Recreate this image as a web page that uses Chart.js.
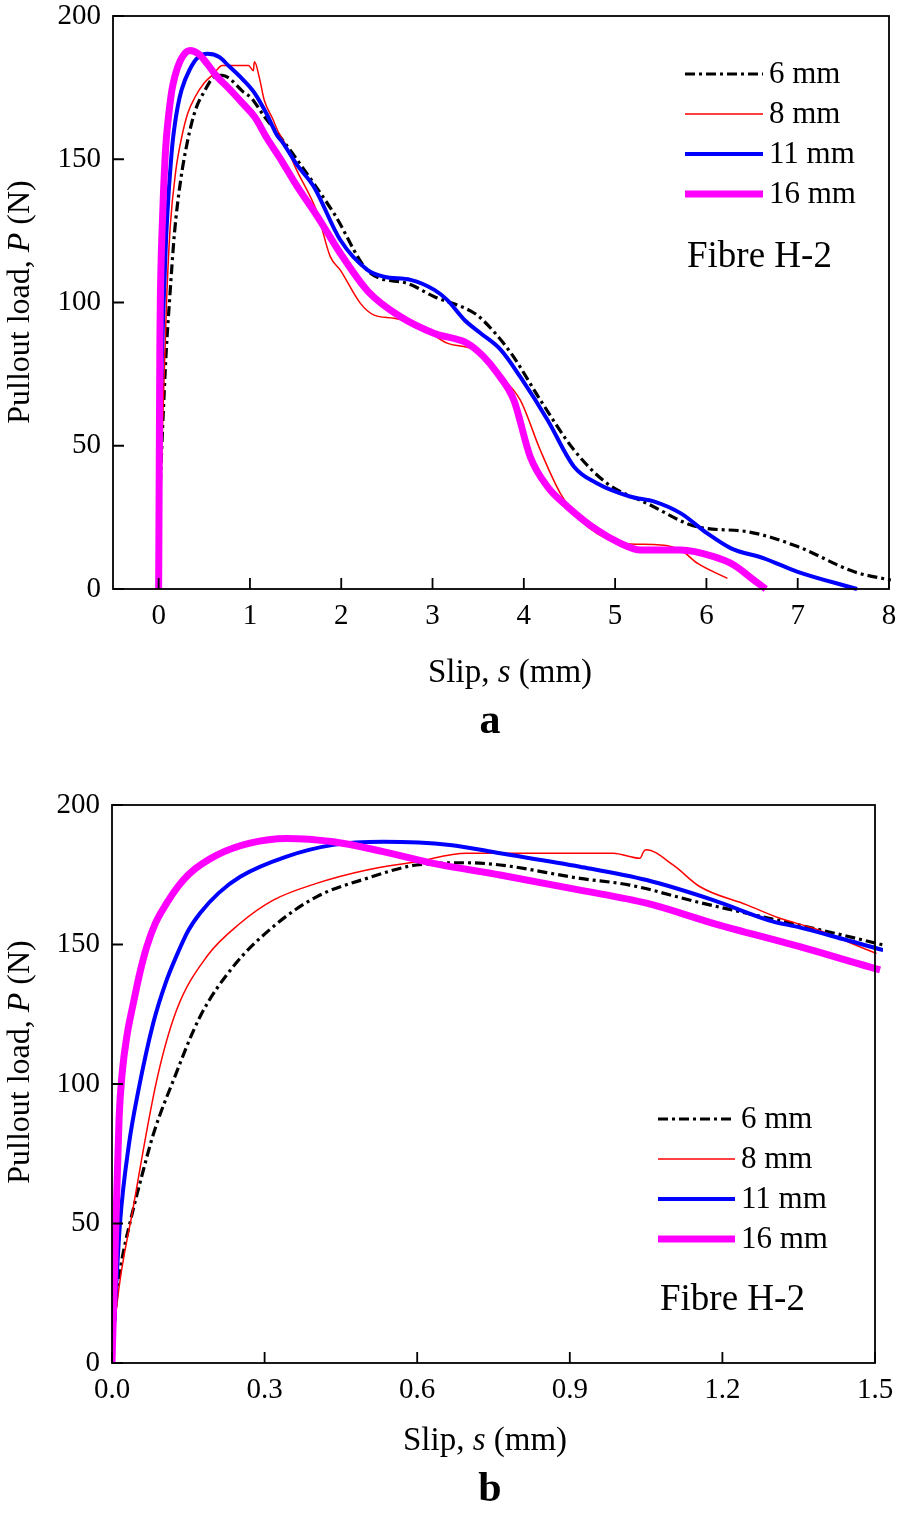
<!DOCTYPE html>
<html><head><meta charset="utf-8">
<script src="https://cdn.jsdelivr.net/npm/chart.js@4.4.0/dist/chart.umd.min.js"></script>
<style>
html,body{margin:0;padding:0;background:#fff;}
.wrap{position:relative;width:898px;height:760px;}
canvas{display:block;}
</style></head><body>
<div class="wrap"><canvas id="ca" width="898" height="760"></canvas></div>
<div class="wrap"><canvas id="cb" width="898" height="760"></canvas></div>
<script>
// ---- data (slip s in mm, pullout load P in N) ----
const slip6 = [0, 0.009, 0.02, 0.035, 0.06, 0.083, 0.12, 0.173, 0.238, 0.317, 0.402, 0.501, 0.599, 0.697, 0.763, 0.92, 1.018, 1.149, 1.248, 1.379, 1.49, 1.92, 2.32, 2.72, 3.02, 3.42, 3.53, 3.86, 4.18, 4.55, 4.91, 5.35, 5.9, 6.45, 7.0, 7.62, 8.02];
const load6 = [0, 23.8, 37.5, 50, 68, 83, 101, 124.1, 142, 156.4, 167.1, 173.7, 178.5, 179.3, 178.5, 173.7, 171.3, 165.3, 161.2, 155.8, 151, 131.1, 110.2, 106.7, 102, 97, 94.5, 82.3, 66, 48.5, 36.9, 29.9, 21.7, 20, 14.8, 6, 3.1];

const slip8 = [0, 0.009, 0.042, 0.088, 0.127, 0.186, 0.252, 0.317, 0.402, 0.501, 0.599, 0.697, 0.763, 0.985, 1.038, 1.045, 1.05, 1.103, 1.156, 1.248, 1.313, 1.379, 1.503, 1.74, 1.88, 1.99, 2.21, 2.36, 2.58, 2.87, 3.16, 3.45, 3.71, 3.96, 4.18, 4.4, 4.62, 4.8, 5.06, 5.5, 5.72, 5.9, 6.23];
const load8 = [0, 20, 56, 101.4, 126.5, 145.6, 157.6, 165.9, 171.9, 176.7, 179.7, 182.7, 182.7, 182.7, 180.9, 183.3, 184, 178.5, 170.7, 164.2, 159.4, 155.8, 146.8, 131.1, 116, 111.3, 99.7, 95.6, 94.5, 91.5, 85.8, 83.4, 75.3, 66, 48.5, 33.4, 24.1, 19.4, 15.9, 15.4, 13.6, 9, 3.7];

const slip11 = [0, 0.0157, 0.033, 0.052, 0.081, 0.105, 0.127, 0.15, 0.173, 0.21, 0.252, 0.343, 0.435, 0.533, 0.664, 0.763, 0.92, 1.051, 1.182, 1.3, 1.346, 1.444, 1.516, 1.7, 1.99, 2.29, 2.47, 2.76, 3.02, 3.16, 3.35, 3.53, 3.75, 3.96, 4.26, 4.55, 4.8, 5.17, 5.43, 5.72, 6.01, 6.27, 6.63, 7.0, 7.65];
const load11 = [0, 50, 78, 97.8, 121.8, 136, 146, 155, 161.2, 168.5, 174.3, 181.5, 185.7, 186.8, 185.7, 182.7, 177.9, 173.1, 165.9, 158.2, 156.4, 151.6, 148, 140.4, 121.8, 111.3, 109, 107.9, 104.4, 100.9, 93.9, 89.2, 83.4, 74.1, 59, 42.7, 36.9, 32.2, 30.5, 26.4, 19.4, 14.2, 10.7, 6, 0];

const slip16 = [0, 0.008, 0.014, 0.02, 0.03, 0.042, 0.055, 0.068, 0.085, 0.1075, 0.13, 0.153, 0.206, 0.271, 0.343, 0.435, 0.533, 0.632, 0.763, 0.92, 1.051, 1.182, 1.352, 1.51, 1.74, 1.99, 2.29, 2.65, 3.02, 3.38, 3.56, 3.71, 3.89, 4.07, 4.26, 4.48, 4.8, 5.06, 5.28, 5.72, 6.08, 6.3, 6.52, 6.65];
const load16 = [0, 52, 88, 104, 118, 129, 140, 149, 157.5, 164.8, 170.8, 175.5, 182, 186.3, 188, 186.8, 183.3, 179.1, 174.9, 169.5, 164.8, 157.6, 149.2, 140.9, 130, 117.2, 104, 95, 89.2, 85.8, 81.1, 75.3, 66, 46.2, 35.7, 28.7, 20.6, 15.9, 13.6, 13.6, 11.3, 8.4, 3.1, 0];

const seriesLabels = ['6 mm', '8 mm', '11 mm', '16 mm'];
const yTicks = [0, 50, 100, 150, 200];
const xTicksA = [0, 1, 2, 3, 4, 5, 6, 7, 8];
const xTicksB = [0, 0.3, 0.6, 0.9, 1.2, 1.5];

// ---- styling ----
const FONT = '"Liberation Serif", "Times New Roman", serif';
const styles = [
  {color: '#000000', width: 3.2, dash: [10, 4, 3, 4]},
  {color: '#ff0000', width: 1.5, dash: []},
  {color: '#0000ff', width: 4, dash: []},
  {color: '#ff00ff', width: 7, dash: []}
];
const slips = [slip6, slip8, slip11, slip16];
const loads = [load6, load8, load11, load16];

function makeDatasets() {
  return slips.map((sx, i) => ({
    label: seriesLabels[i],
    data: sx.map((v, k) => ({x: v, y: loads[i][k]})),
    borderColor: styles[i].color,
    borderWidth: styles[i].width,
    borderDash: styles[i].dash,
    pointRadius: 0,
    fill: false,
    cubicInterpolationMode: 'monotone',
    clip: {left: 0, top: 0, right: 8, bottom: 4},
    order: 4 - i
  }));
}

function drawRich(ctx, parts, size) {
  let total = 0;
  parts.forEach(p => { ctx.font = (p[1] ? 'italic ' : '') + size + 'px ' + FONT; p.w = ctx.measureText(p[0]).width; total += p.w; });
  let x = -total / 2;
  ctx.textBaseline = 'middle';
  ctx.textAlign = 'left';
  parts.forEach(p => { ctx.font = (p[1] ? 'italic ' : '') + size + 'px ' + FONT; ctx.fillText(p[0], x, 0); x += p.w; });
}

const decor = {
  id: 'decor',
  afterDatasetsDraw(chart, args, o) {
    const ctx = chart.ctx, a = chart.chartArea;
    const xs = chart.scales.x, ys = chart.scales.y;
    ctx.save();
    ctx.strokeStyle = '#000';
    ctx.lineWidth = 1.8;
    ctx.setLineDash([]);
    ctx.strokeRect(a.left, a.top, a.right - a.left, a.bottom - a.top);
    // inward ticks
    ctx.beginPath();
    xs.ticks.forEach(t => { const px = xs.getPixelForValue(t.value); ctx.moveTo(px, a.bottom); ctx.lineTo(px, a.bottom - 11); });
    ys.ticks.forEach(t => { const py = ys.getPixelForValue(t.value); ctx.moveTo(a.left, py); ctx.lineTo(a.left + 11, py); });
    ctx.stroke();
    // legend
    ctx.fillStyle = '#000';
    seriesLabels.forEach((lab, i) => {
      const y = o.legY + i * o.legGap;
      ctx.beginPath();
      ctx.strokeStyle = styles[i].color;
      ctx.lineWidth = styles[i].width;
      ctx.setLineDash(styles[i].dash);
      ctx.moveTo(o.legX0, y); ctx.lineTo(o.legX1, y); ctx.stroke();
      ctx.setLineDash([]);
      ctx.font = '31px ' + FONT;
      ctx.textAlign = 'left'; ctx.textBaseline = 'middle';
      ctx.fillText(lab, o.legX1 + 6, y + 1);
    });
    ctx.font = '37px ' + FONT;
    ctx.textAlign = 'left'; ctx.textBaseline = 'middle';
    ctx.fillText('Fibre H-2', o.fibX, o.fibY);
    // axis titles
    ctx.save();
    ctx.translate(o.xtX, o.xtY);
    drawRich(ctx, [['Slip, ', false], ['s', true], [' (mm)', false]], 33);
    ctx.restore();
    ctx.save();
    ctx.translate(o.ytX, o.ytY);
    ctx.rotate(-Math.PI / 2);
    drawRich(ctx, [['Pullout load, ', false], ['P', true], [' (N)', false]], 32);
    ctx.restore();
    // panel letter
    ctx.font = 'bold 42px ' + FONT;
    ctx.textAlign = 'center'; ctx.textBaseline = 'middle';
    ctx.fillText(o.letter, o.letX, o.letY);
    ctx.restore();
  }
};

function zeroPad(s) { s.paddingTop = 0; s.paddingBottom = 0; s.paddingLeft = 0; s.paddingRight = 0; }

function makeChart(id, xmin, xmax, xTicks, fmt, area, deco) {
  const H = 760;
  return new Chart(document.getElementById(id), {
    type: 'line',
    data: {datasets: makeDatasets()},
    plugins: [decor],
    options: {
      responsive: false,
      animation: false,
      devicePixelRatio: 1,
      layout: {autoPadding: false, padding: {left: 0, top: area.top, right: 898 - area.right, bottom: 0}},
      plugins: {legend: {display: false}, tooltip: {enabled: false}, decor: deco},
      scales: {
        x: {
          type: 'linear', min: xmin, max: xmax,
          afterBuildTicks: s => { s.ticks = xTicks.map(v => ({value: v})); },
          afterFit: s => { s.height = H - area.bottom; zeroPad(s); },
          grid: {display: false, drawTicks: false},
          border: {display: false},
          ticks: {padding: 10, color: '#000', font: {family: FONT, size: 29}, maxRotation: 0, autoSkip: false, callback: v => fmt(v)}
        },
        y: {
          type: 'linear', min: 0, max: 200,
          afterBuildTicks: s => { s.ticks = yTicks.map(v => ({value: v})); },
          afterFit: s => { s.width = area.left; zeroPad(s); },
          grid: {display: false, drawTicks: false},
          border: {display: false},
          ticks: {padding: 12, color: '#000', font: {family: FONT, size: 29}, callback: v => String(v)}
        }
      }
    }
  });
}

makeChart('ca', -0.5, 8, xTicksA, v => String(v),
  {left: 113, right: 889, top: 16, bottom: 589},
  {legX0: 685, legX1: 763, legY: 74, legGap: 40, fibX: 687, fibY: 257,
   xtX: 510, xtY: 673, ytX: 21, ytY: 302, letter: 'a', letX: 490, letY: 722});

makeChart('cb', 0, 1.5, xTicksB, v => v.toFixed(1),
  {left: 112, right: 875, top: 45, bottom: 603},
  {legX0: 658, legX1: 735, legY: 359, legGap: 40, fibX: 660, fibY: 540,
   xtX: 485, xtY: 681, ytX: 21, ytY: 302, letter: 'b', letX: 490, letY: 730});
</script>
</body></html>
